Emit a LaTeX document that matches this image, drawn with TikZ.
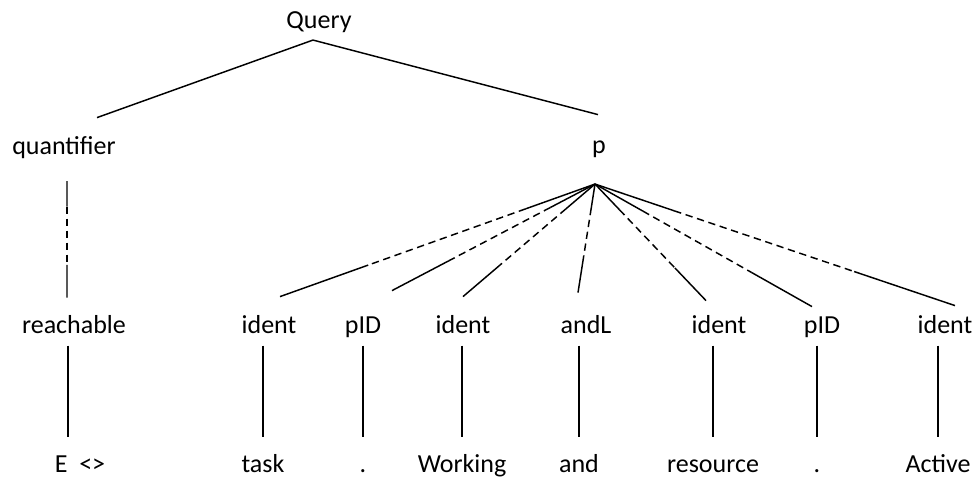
\documentclass[tikz,border=0pt]{standalone}
\usepackage{fontspec}
\setmainfont{Carlito}
\usetikzlibrary{calc}

% solid -- dashed -- solid connector
\newcommand{\brokenedge}[2]{%
  \draw (#1) -- ($(#1)!0.22!(#2)$);
  \draw[broken] ($(#1)!0.22!(#2)$) -- ($(#1)!0.72!(#2)$);
  \draw ($(#1)!0.72!(#2)$) -- (#2);
}

\begin{document}
\begin{tikzpicture}[x=0.75pt, y=-0.75pt, line width=1.1pt,
  every node/.style={font=\fontsize{19.5}{23}\selectfont},
  lbl/.style={inner sep=0pt, text height=14pt, text depth=4pt, anchor=base},
  broken/.style={dash pattern=on 5.5pt off 3.5pt},
  stem/.style={shorten <=5pt, shorten >=12pt}]
  \useasboundingbox (0,0) rectangle (974,478);

  % tree labels
  \node[lbl] (query) at (319,29) {Query};
  \node[lbl] (quant) at (64,154) {quantifier};
  \node[lbl] (p) at (599,153) {p};

  \node[lbl] (reach) at (74,333) {reachable};
  \node[lbl] (i1) at (269,333) {ident};
  \node[lbl] (pid1) at (363,333) {pID};
  \node[lbl] (i2) at (463,333) {ident};
  \node[lbl] (andl) at (586,333) {andL};
  \node[lbl] (i3) at (719,333) {ident};
  \node[lbl] (pid2) at (822,333) {pID};
  \node[lbl] (i4) at (945,333) {ident};

  % leaves
  \node[lbl] (eop) at (80,472) {E\ \ <>};
  \node[lbl] (task) at (263,472) {task};
  \node[lbl] (dota) at (363,472) {.};
  \node[lbl] (working) at (462,472) {Working};
  \node[lbl] (andw) at (579,472) {and};
  \node[lbl] (resource) at (713,472) {resource};
  \node[lbl] (dotb) at (817,472) {.};
  \node[lbl] (active) at (938,472) {Active};

  % top edges
  \draw ([shift={(-6,5)}]query.south) -- ([shift={(33,-17)}]quant.north);
  \draw ([shift={(-6,5)}]query.south) -- ([shift={(-1,-19)}]p.north);

  \coordinate (qtop) at ([shift={(3,21)}]quant.south);
  \coordinate (qbot) at ([shift={(-7,-16)}]reach.north);
  \brokenedge{qtop}{qbot}

  \coordinate (pfan) at ([shift={(-4,25)}]p.south);
  \foreach \n/\dx/\dy in {i1/11/-17, pid1/29/-23, i2/0/-17, andl/-8/-21,
                          i3/-13/-13, pid2/-10/-7, i4/10/-8}{
    \coordinate (e-\n) at ([shift={(\dx,\dy)}]\n.north);
    \brokenedge{pfan}{e-\n}
  }

  % stems down to the leaves
  \draw[stem] ([shift={(-12,0)}]eop.north |- reach.south) -- ([shift={(-12,0)}]eop.north);
  \foreach \lab/\leaf in {i1/task, pid1/dota, i2/working, andl/andw,
                          i3/resource, pid2/dotb, i4/active}
    \draw[stem] (\leaf.north |- \lab.south) -- (\leaf.north);
\end{tikzpicture}
\end{document}
